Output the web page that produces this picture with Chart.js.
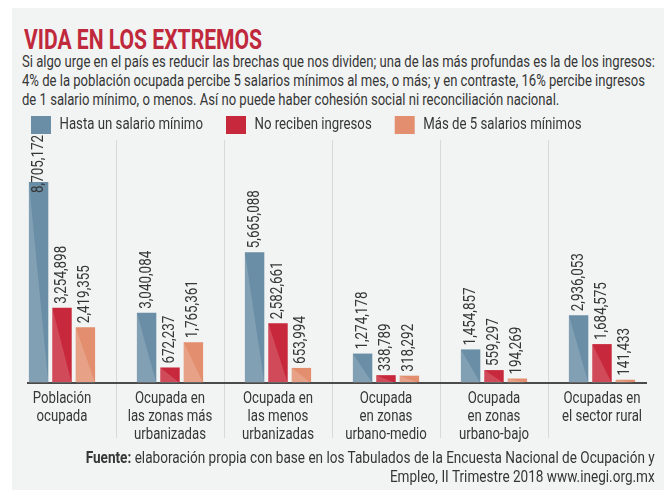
<!DOCTYPE html>
<html>
<head>
<meta charset="utf-8">
<script src="https://cdn.jsdelivr.net/npm/chart.js@4.4.0/dist/chart.umd.min.js"></script>
<style>
  html, body { margin: 0; padding: 0; background: #ffffff; }
  body { width: 664px; height: 498px; position: relative; overflow: hidden;
         font-family: Roboto, "Liberation Sans", sans-serif; color: #363636; }
  .panel { position: absolute; left: 12px; top: 8px; width: 652px; height: 482px; background: #f2f4f4; }
  .line { position: absolute; white-space: nowrap; display: inline-block; }
  .title { left: 24px; top: 24px; font-size: 28px; line-height: 32px; font-weight: bold; color: #c0283c; transform-origin: 0 0; }
  .sub { left: 22px; font-size: 17px; line-height: 19px; transform-origin: 0 0; }
  .note { right: 9px; font-size: 17px; line-height: 19px; transform-origin: 100% 0; }
  .wrap { position: absolute; left: 0; top: 93px; width: 664px; height: 358px; }
</style>
</head>
<body>
<div class="panel"></div>
<div class="line title" id="title">VIDA EN LOS EXTREMOS</div>
<div class="line sub" id="sub1" style="top:52px">Si algo urge en el país es reducir las brechas que nos dividen; una de las más profundas es la de los ingresos:</div>
<div class="line sub" id="sub2" style="top:71px">4% de la población ocupada percibe 5 salarios mínimos al mes, o más; y en contraste, 16% percibe ingresos</div>
<div class="line sub" id="sub3" style="top:90px">de 1 salario mínimo, o menos. Así no puede haber cohesión social ni reconciliación nacional.</div>
<div class="wrap"><canvas id="chart"></canvas></div>
<div class="line note" id="note1" style="top:448px"><b>Fuente:</b> elaboración propia con base en los Tabulados de la Encuesta Nacional de Ocupación y</div>
<div class="line note" id="note2" style="top:467px">Empleo, II Trimestre 2018 www.inegi.org.mx</div>
<script>
// categories (multi-line labels)
const categories = [
    ["Población", "ocupada"],
    ["Ocupada en", "las zonas más", "urbanizadas"],
    ["Ocupada en", "las menos", "urbanizadas"],
    ["Ocupada", "en zonas", "urbano-medio"],
    ["Ocupada", "en zonas", "urbano-bajo"],
    ["Ocupadas en", "el sector rural"],
];
const seriesNames = ["Hasta un salario mínimo", "No reciben ingresos", "Más de 5 salarios mínimos"];
const hastaUnSalario = [8705172, 3040084, 5665088, 1274178, 1454857, 2936053];
const noRecibenIngresos = [3254898, 672237, 2582661, 338789, 559297, 1684575];
const masDe5Salarios = [2419355, 1765361, 653994, 318292, 194269, 141433];

const FONT = 'Roboto, "Liberation Sans", sans-serif';
const colors = ["#6a8ea6", "#c8283b", "#e38f6f"];

function fmt(v) {
    return v.toLocaleString("en-US");
}

// The printed graphic uses a condensed face; squeeze the HTML lines to the same widths
function squeeze(el, width) {
    const k = width / el.getBoundingClientRect().width;
    el.style.transform = "scaleX(" + k + ")";
    return k;
}
squeeze(document.getElementById("title"), 238);
const kSub = squeeze(document.getElementById("sub1"), 633);
document.getElementById("sub2").style.transform = "scaleX(" + kSub + ")";
document.getElementById("sub3").style.transform = "scaleX(" + kSub + ")";
const kNote = squeeze(document.getElementById("note1"), 569);
document.getElementById("note2").style.transform = "scaleX(" + kNote + ")";

// Same idea for the canvas: every fillText / measureText gets a horizontal factor
const canvas = document.getElementById("chart");
const ctx2d = canvas.getContext("2d");
ctx2d.squeeze = 1;
const rawFill = ctx2d.fillText.bind(ctx2d);
const rawMeasure = ctx2d.measureText.bind(ctx2d);
ctx2d.font = "17px " + FONT;
const kCanvas = 143.5 / rawMeasure(seriesNames[0]).width;
ctx2d.font = "16px " + FONT;
const kValues = 58 / rawMeasure("3,254,898").width;
ctx2d.squeeze = kCanvas;
ctx2d.fillText = function (text, x, y) {
    this.save();
    this.translate(x, y);
    this.scale(this.squeeze, 1);
    rawFill(text, 0, 0);
    this.restore();
};
ctx2d.measureText = function (text) {
    const m = rawMeasure(text);
    return {
        width: m.width * this.squeeze,
        actualBoundingBoxAscent: m.actualBoundingBoxAscent,
        actualBoundingBoxDescent: m.actualBoundingBoxDescent,
        actualBoundingBoxLeft: m.actualBoundingBoxLeft * this.squeeze,
        actualBoundingBoxRight: m.actualBoundingBoxRight * this.squeeze,
    };
};

// lighter lower-left triangle on each bar, like the printed graphic
const barShade = {
    id: "barShade",
    afterDatasetsDraw(chart) {
        const ctx = chart.ctx;
        chart.data.datasets.forEach((ds, i) => {
            chart.getDatasetMeta(i).data.forEach((bar) => {
                const l = bar.x - bar.width / 2;
                const r = bar.x + bar.width / 2;
                ctx.save();
                ctx.fillStyle = "rgba(255,255,255,0.16)";
                ctx.beginPath();
                ctx.moveTo(l, bar.y);
                ctx.lineTo(r, bar.base);
                ctx.lineTo(l, bar.base);
                ctx.closePath();
                ctx.fill();
                ctx.restore();
            });
        });
    },
};

// vertical value labels above each bar
const valueLabels = {
    id: "valueLabels",
    afterDatasetsDraw(chart) {
        const ctx = chart.ctx;
        const top = chart.chartArea.top - 9;
        const old = ctx.squeeze;
        ctx.save();
        ctx.squeeze = kValues;
        ctx.font = "16px " + FONT;
        ctx.fillStyle = "#363636";
        ctx.textAlign = "left";
        ctx.textBaseline = "middle";
        chart.data.datasets.forEach((ds, i) => {
            chart.getDatasetMeta(i).data.forEach((bar, j) => {
                const txt = fmt(ds.data[j]);
                const w = ctx.measureText(txt).width;
                let start = bar.y - 4;
                if (start - w < top) start = top + w;
                ctx.save();
                ctx.translate(bar.x, start);
                ctx.rotate(-Math.PI / 2);
                ctx.fillText(txt, 0, 0);
                ctx.restore();
            });
        });
        ctx.restore();
        ctx.squeeze = old;
    },
};

// category dividers and the base line
const dividers = {
    id: "dividers",
    beforeDatasetsDraw(chart) {
        const ctx = chart.ctx;
        const xs = chart.scales.x;
        const area = chart.chartArea;
        ctx.save();
        ctx.strokeStyle = "#d6dada";
        ctx.lineWidth = 1;
        for (let i = 1; i < categories.length; i++) {
            const x = Math.round((xs.getPixelForValue(i - 1) + xs.getPixelForValue(i)) / 2) + 0.5;
            ctx.beginPath();
            ctx.moveTo(x, area.top - 4);
            ctx.lineTo(x, area.bottom + 55);
            ctx.stroke();
        }
        ctx.restore();
    },
    afterDatasetsDraw(chart) {
        const ctx = chart.ctx;
        const area = chart.chartArea;
        ctx.save();
        ctx.strokeStyle = "#4a4a4a";
        ctx.lineWidth = 2;
        ctx.beginPath();
        ctx.moveTo(area.left + 19, area.bottom);
        ctx.lineTo(area.right - 9, area.bottom);
        ctx.stroke();
        ctx.restore();
    },
};

new Chart(canvas, {
    type: "bar",
    data: {
        labels: categories,
        datasets: [
            { label: seriesNames[0], data: hastaUnSalario, backgroundColor: colors[0] },
            { label: seriesNames[1], data: noRecibenIngresos, backgroundColor: colors[1] },
            { label: seriesNames[2], data: masDe5Salarios, backgroundColor: colors[2] },
        ],
    },
    options: {
        responsive: true,
        maintainAspectRatio: false,
        animation: false,
        datasets: {
            bar: { categoryPercentage: 0.65, barPercentage: 0.83 },
        },
        layout: { padding: { left: 8, right: 8, top: 0, bottom: 0 } },
        plugins: {
            legend: {
                display: true,
                position: "top",
                align: "start",
                labels: {
                    boxWidth: 20,
                    boxHeight: 18,
                    padding: 23,
                    color: "#363636",
                    font: { family: FONT, size: 17 },
                },
            },
            tooltip: { enabled: false },
        },
        scales: {
            x: {
                grid: { display: false, drawTicks: false },
                border: { display: false },
                ticks: {
                    color: "#363636",
                    padding: 7,
                    maxRotation: 0,
                    autoSkip: false,
                    font: { family: FONT, size: 17, lineHeight: "18px" },
                },
            },
            y: {
                display: false,
                min: 0,
                max: 10350000,
            },
        },
    },
    plugins: [dividers, barShade, valueLabels],
});
</script>
</body>
</html>
